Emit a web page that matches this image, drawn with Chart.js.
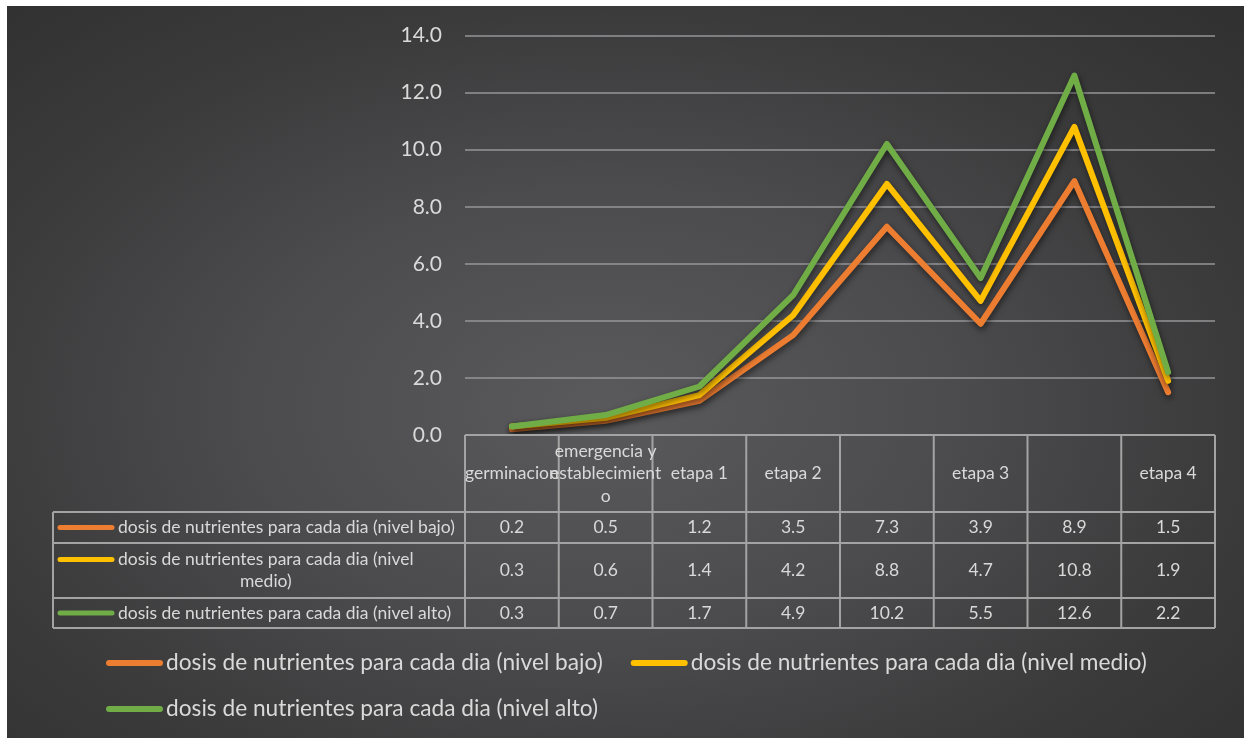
<!DOCTYPE html>
<html><head><meta charset="utf-8">
<script src="https://cdn.jsdelivr.net/npm/chart.js@4"></script>
<style>
html,body{margin:0;padding:0;background:#fff;}
#bg{position:absolute;left:7px;top:6px;width:1237px;height:732px;
  background:radial-gradient(ellipse farthest-corner at 48% 55%, #5a5a5c 0%, #4c4c4e 38%, #3b3b3c 70%, #303030 100%);}
canvas{position:absolute;left:0;top:0;}
</style></head><body>
<div id="bg"></div>
<canvas id="c" width="1244" height="738"></canvas>
<script>
// categories (multi-line where the table cell wraps)
const categories = ['germinacion', ['emergencia y','establecimient','o'], 'etapa 1', 'etapa 2', '', 'etapa 3', '', 'etapa 4'];
const seriesNames = [
  'dosis de nutrientes para cada dia (nivel bajo)',
  'dosis de nutrientes para cada dia (nivel medio)',
  'dosis de nutrientes para cada dia (nivel alto)'
];
const nivelBajo  = [0.2, 0.5, 1.2, 3.5, 7.3, 3.9, 8.9, 1.5];
const nivelMedio = [0.3, 0.6, 1.4, 4.2, 8.8, 4.7, 10.8, 1.9];
const nivelAlto  = [0.3, 0.7, 1.7, 4.9, 10.2, 5.5, 12.6, 2.2];
const seriesColors = ['#ED7D31', '#FFC000', '#70AD47'];

const TXT = '#d9d9d9';
const BORDER = '#a3a3a3';
const FONT = 'Lato, "Open Sans", sans-serif';

function wrapWords(ctx, text, maxW){
  const words = text.split(' '); const lines = []; let cur = '';
  for(const w of words){
    const t = cur ? cur+' '+w : w;
    if(cur && ctx.measureText(t).width > maxW){ lines.push(cur); cur = w; } else cur = t;
  }
  if(cur) lines.push(cur);
  return lines;
}

const shadowPlugin = {
  id:'lineShadow',
  beforeDatasetsDraw(chart){ const c=chart.ctx; c.save(); c.shadowColor='rgba(0,0,0,0.55)'; c.shadowBlur=6; c.shadowOffsetX=1; c.shadowOffsetY=3; },
  afterDatasetsDraw(chart){ chart.ctx.restore(); }
};

const tablePlugin = {
  id:'dataTable',
  afterDraw(chart){
    const {ctx, chartArea:a, scales:{x}} = chart;
    const n = categories.length;
    const colW = (a.right - a.left)/n;
    const headTop = a.bottom, headBot = a.bottom + 77;
    const keyLeft = 53, textLeft = 118;
    ctx.save();
    ctx.font = '17.5px '+FONT;
    // row heights from wrapped labels
    const rows = chart.data.datasets.map(ds => {
      const lines = wrapWords(ctx, ds.label, 465 - textLeft - 6);
      return {ds, lines, h: lines.length > 1 ? 55 : 31};
    });
    rows[rows.length-1].h = 30;
    let y = headBot; const rowY = [];
    rows.forEach(r => { rowY.push(y); y += r.h; });
    const tableBot = y;

    // borders
    ctx.strokeStyle = BORDER; ctx.lineWidth = 2;
    ctx.beginPath();
    ctx.moveTo(a.left, headTop); ctx.lineTo(a.right, headTop);
    [headBot, ...rowY.slice(1), tableBot].forEach(yy => { ctx.moveTo(keyLeft, yy); ctx.lineTo(a.right, yy); });
    for(let i=0;i<=n;i++){ const xx = a.left + i*colW; ctx.moveTo(xx, headTop); ctx.lineTo(xx, tableBot); }
    ctx.moveTo(keyLeft, headBot); ctx.lineTo(keyLeft, tableBot);
    ctx.stroke();

    // header labels
    ctx.fillStyle = TXT; ctx.textAlign = 'center'; ctx.textBaseline = 'middle';
    const mid = (headTop + headBot)/2;
    categories.forEach((c,i) => {
      const lines = Array.isArray(c) ? c : [c];
      const cx = x.getPixelForValue(i);
      lines.forEach((l,k) => ctx.fillText(l, cx, mid + (k - (lines.length-1)/2)*22.5));
    });

    // data rows
    rows.forEach((r,ri) => {
      const cy = rowY[ri] + r.h/2;
      const firstY = cy - (r.lines.length-1)/2*22;
      ctx.strokeStyle = r.ds.borderColor; ctx.lineWidth = 5; ctx.lineCap = 'round';
      ctx.beginPath(); ctx.moveTo(60, firstY); ctx.lineTo(112, firstY); ctx.stroke();
      ctx.fillStyle = TXT;
      const w0 = ctx.measureText(r.lines[0]).width;
      r.lines.forEach((l,k) => {
        if(k === 0){ ctx.textAlign = 'left'; ctx.fillText(l, textLeft, firstY); }
        else { ctx.textAlign = 'center'; ctx.fillText(l, textLeft + w0/2, firstY + k*22); }
      });
      ctx.textAlign = 'center';
      r.ds.data.forEach((v,i) => ctx.fillText(v.toFixed(1), x.getPixelForValue(i), cy));
    });

    // bottom legend
    ctx.font = '22.7px '+FONT; ctx.textAlign = 'left';
    let lx = 107, ly = 663;
    chart.data.datasets.forEach(ds => {
      const tw = ctx.measureText(ds.label).width;
      const itemW = 59 + tw;
      if(lx > 107 && lx + itemW > a.right){ lx = 107; ly += 46; }
      ctx.strokeStyle = ds.borderColor; ctx.lineWidth = 6; ctx.lineCap = 'round';
      ctx.beginPath(); ctx.moveTo(lx+2, ly); ctx.lineTo(lx+53, ly); ctx.stroke();
      ctx.fillStyle = TXT; ctx.fillText(ds.label, lx+59, ly);
      lx += itemW + 29;
    });
    ctx.restore();
  }
};

const seriesData = [nivelBajo, nivelMedio, nivelAlto];
new Chart(document.getElementById('c'), {
  type:'line',
  data:{
    labels: categories,
    datasets: seriesData.map((d,i) => ({
      label: seriesNames[i], data: d, borderColor: seriesColors[i], backgroundColor: seriesColors[i],
      borderWidth: 6, pointRadius: 0, tension: 0, borderCapStyle:'round', borderJoinStyle:'round',
      order: 3 - i
    }))
  },
  options:{
    responsive:false, animation:false,
    layout:{padding:{top:35, right:29, bottom:303, left:0}},
    plugins:{legend:{display:false}, tooltip:{enabled:false}},
    scales:{
      x:{type:'category', offset:true, display:false},
      y:{
        min:0, max:14,
        afterFit(s){ s.width = 465; },
        ticks:{stepSize:2, color:TXT, font:{family:FONT, size:21}, padding:23, callback:v => v.toFixed(1)},
        grid:{color:'rgba(150,150,152,0.75)', lineWidth:2, tickLength:0, drawTicks:false},
        border:{display:false}
      }
    }
  },
  plugins:[shadowPlugin, tablePlugin]
});
</script>
</body></html>
